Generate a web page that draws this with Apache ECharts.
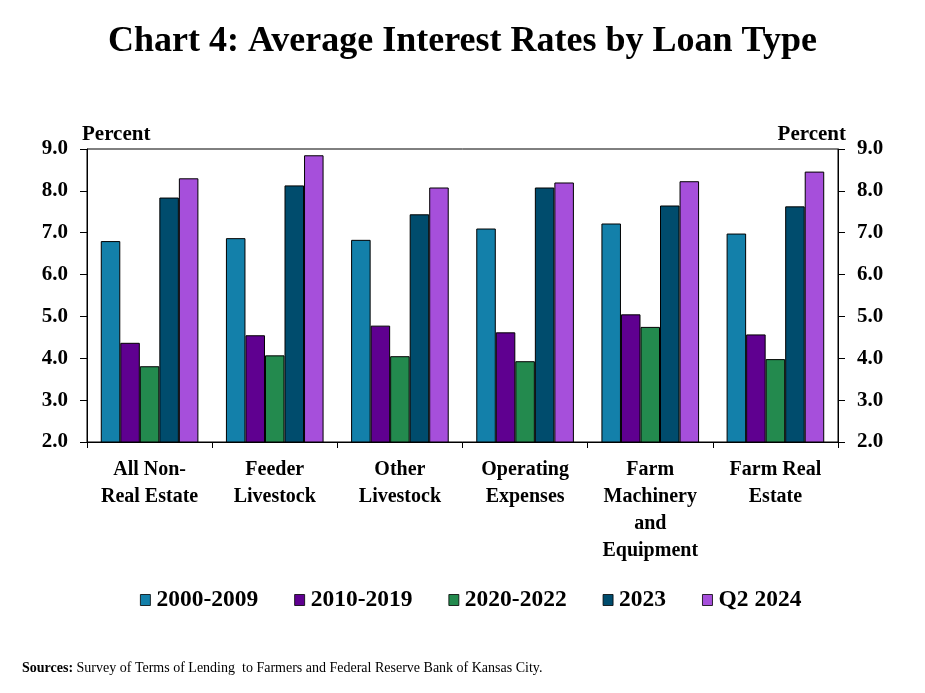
<!DOCTYPE html>
<html>
<head>
<meta charset="utf-8">
<script src="https://cdn.jsdelivr.net/npm/echarts@6/dist/echarts.min.js"></script>
<style>
html,body{margin:0;padding:0;background:#fff;}
#c{width:925px;height:693px;}
</style>
</head>
<body>
<div id="c"></div>
<script>
var categories = ['All Non-\nReal Estate', 'Feeder\nLivestock', 'Other\nLivestock', 'Operating\nExpenses', 'Farm\nMachinery\nand\nEquipment', 'Farm Real\nEstate'];
var seriesNames = ['2000-2009', '2010-2019', '2020-2022', '2023', 'Q2 2024'];
var s2000_2009 = [6.80, 6.87, 6.83, 7.10, 7.22, 6.98];
var s2010_2019 = [4.37, 4.55, 4.78, 4.62, 5.05, 4.57];
var s2020_2022 = [3.81, 4.07, 4.05, 3.93, 4.75, 3.98];
var s2023 = [7.84, 8.13, 7.44, 8.08, 7.65, 7.63];
var sQ2_2024 = [8.30, 8.85, 8.08, 8.20, 8.23, 8.46];
var yTicks = [2, 3, 4, 5, 6, 7, 8, 9];

var colors = ['#1380AA', '#5F0090', '#238A4E', '#004C6D', '#A64FDB'];
var values = [s2000_2009, s2010_2019, s2020_2022, s2023, sQ2_2024];
var font = 'Liberation Serif, Times New Roman, serif';
var fmt = function (v) { return v.toFixed(1); };

function makeY(pos) {
  return {
    type: 'value', min: yTicks[0], max: yTicks[yTicks.length - 1], interval: 1,
    position: pos,
    name: 'Percent',
    nameGap: 4,
    nameTextStyle: {fontFamily: font, fontWeight: 'bold', fontSize: 21, color: '#000',
      align: pos === 'left' ? 'left' : 'right',
      padding: pos === 'left' ? [0, 0, 0, -5] : [0, -8, 0, 0]},
    axisLine: {show: true, lineStyle: {color: '#000', width: 1}},
    axisTick: {show: true, length: 7, lineStyle: {color: '#000'}},
    axisLabel: {fontFamily: font, fontWeight: 'bold', fontSize: 21, color: '#000', margin: 19, formatter: fmt},
    splitLine: {show: false}
  };
}

var chart = echarts.init(document.getElementById('c'));
chart.setOption({
  animation: false,
  backgroundColor: '#fff',
  title: [{
    text: 'Chart 4: Average Interest Rates by Loan Type',
    left: 'center', top: 19,
    textStyle: {fontFamily: font, fontWeight: 'bold', fontSize: 36, color: '#000'}
  }, {
    text: '{b|Sources:} Survey of Terms of Lending  to Farmers and Federal Reserve Bank of Kansas City.',
    left: 17, top: 656,
    textStyle: {fontFamily: font, fontSize: 14, fontWeight: 'normal', color: '#000',
      rich: {b: {fontFamily: font, fontSize: 14, fontWeight: 'bold', color: '#000'}}}
  }],
  legend: {
    data: seriesNames,
    top: 583, left: 135,
    itemWidth: 10, itemHeight: 11, itemGap: 36,
    icon: 'rect',
    textStyle: {fontFamily: font, fontWeight: 'bold', fontSize: 23.5, color: '#000', padding: [0, 0, 0, 1]},
    itemStyle: {borderColor: '#000', borderWidth: 0.8}
  },
  grid: {left: 87, right: 87, top: 149, bottom: 251, show: true, borderColor: '#000', borderWidth: 1},
  xAxis: {
    type: 'category', data: categories,
    axisLine: {show: true, lineStyle: {color: '#000'}},
    axisTick: {show: true, length: 6, alignWithLabel: false, lineStyle: {color: '#000'}},
    axisLabel: {fontFamily: font, fontWeight: 'bold', fontSize: 20, color: '#000', lineHeight: 27, margin: 14, interval: 0}
  },
  yAxis: [makeY('left'), makeY('right')],
  series: seriesNames.map(function (n, i) {
    return {
      name: n, type: 'bar', data: values[i], yAxisIndex: 0,
      barGap: '0%', barCategoryGap: '22%',
      itemStyle: {color: colors[i], borderColor: '#000', borderWidth: 1}
    };
  })
});
</script>
</body>
</html>
